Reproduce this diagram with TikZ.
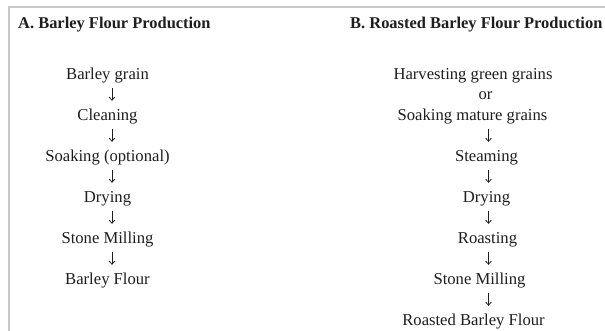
\documentclass[tikz,border=0pt]{standalone}
\usepackage{fontspec}
\setmainfont{Liberation Serif}
\usetikzlibrary{arrows.meta}
\definecolor{framegray}{HTML}{C8C8C8}
\definecolor{textcol}{HTML}{1E1E1E}
\tikzset{
  head/.style={anchor=base west, font=\fontsize{16.5}{18}\selectfont\bfseries, text=textcol, inner sep=0pt},
  stepbox/.style={font=\fontsize{16.7}{18}\selectfont, text=textcol, inner sep=0pt, anchor=base,
    text height=11bp, text depth=3.5bp},
  flow/.style={-{Straight Barb[length=3bp,width=5.5bp]}, line width=0.8bp, draw=textcol,
    shorten <=5.5bp, shorten >=8bp}
}
\begin{document}
\begin{tikzpicture}[x=1bp,y=-1bp]
\useasboundingbox (0,0) rectangle (605,330);
\fill[white] (0,0) rectangle (605,330);
\draw[framegray, line width=2bp] (8.5,331) -- (8.5,7) -- (606,7);
\node[head] (ha) at (18,28) {A. Barley Flour Production};
\node[head] (hb) at (350,28) {B. Roasted Barley Flour Production};
% arrow axes
\coordinate (axA) at (112,0);
\coordinate (axB) at (488.5,0);
% column A
\node[stepbox] (a1) at (107.5,79) {Barley grain};
\node[stepbox] (a2) at (107.5,120) {Cleaning};
\node[stepbox] (a3) at (107.5,161) {Soaking (optional)};
\node[stepbox] (a4) at (107.5,202) {Drying};
\node[stepbox] (a5) at (107.5,243) {Stone Milling};
\node[stepbox] (a6) at (107.5,284) {Barley Flour};
\foreach \s/\t in {a1/a2,a2/a3,a3/a4,a4/a5,a5/a6}
  \draw[flow] (\s.south -| axA) -- (\t.north -| axA);
% column B
\node[stepbox] (b1) at (473,79) {Harvesting green grains};
\node[stepbox] (bor) at (485.5,99.5) {or};
\node[stepbox] (b2) at (472.5,120) {Soaking mature grains};
\node[stepbox] (b3) at (486.5,161) {Steaming};
\node[stepbox] (b4) at (486.5,202) {Drying};
\node[stepbox] (b5) at (487.5,243) {Roasting};
\node[stepbox] (b6) at (479.5,284) {Stone Milling};
\node[stepbox] (b7) at (473.5,325) {Roasted Barley Flour};
\foreach \s/\t in {b2/b3,b3/b4,b4/b5,b5/b6,b6/b7}
  \draw[flow] (\s.south -| axB) -- (\t.north -| axB);
\end{tikzpicture}
\end{document}
